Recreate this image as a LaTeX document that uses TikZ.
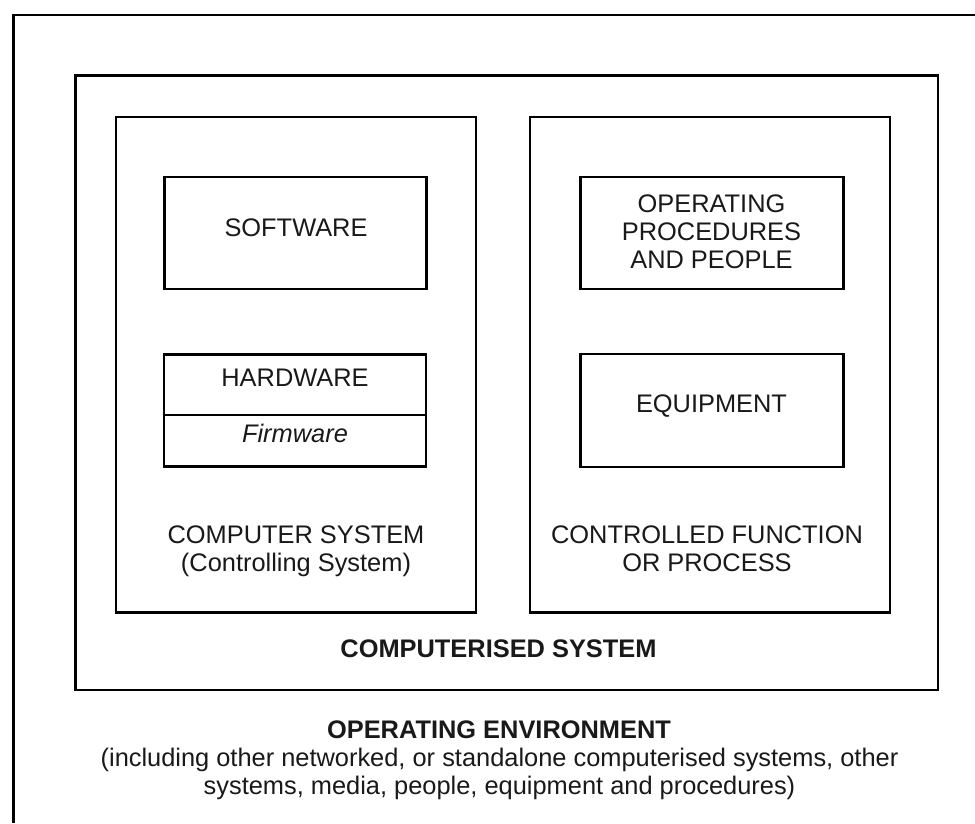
\documentclass[tikz,border=0pt]{standalone}
\usepackage{fontspec}
\setmainfont{Liberation Sans}
\begin{document}
\begin{tikzpicture}[x=1pt,y=-1pt,
  box/.style={draw=black, line width=2.8pt, inner sep=0pt, fill=none},
  lbl/.style={font=\fontsize{25.4}{28}\selectfont, anchor=base, align=center, inner sep=0pt, text=black!90},
  boldlbl/.style={lbl, font=\fontsize{25.4}{28}\selectfont\bfseries}]
\useasboundingbox (0,0) rectangle (975,823);

% operating environment: only its top and left edges fall on the page
\coordinate (envTR) at (975,15);
\coordinate (envTL) at (13.5,15);
\coordinate (envBL) at (13.5,823);
\draw[line width=2.8pt] (envTR) -- (envTL) -- (envBL);

% computerised system
\node[box, minimum width=862.5pt, minimum height=614.5pt] (cs) at (506.75,382.75) {};

% controlling computer system and controlled process
\node[box, minimum width=360pt, minimum height=495.5pt] (comp) at (296,364.75) {};
\node[box, minimum width=360pt, minimum height=495.5pt] (proc) at (710,364.75) {};

% components
\node[box, minimum width=262pt, minimum height=112pt] (sw) at (295.5,233) {};
\node[box, minimum width=262pt, minimum height=112.5pt] (hw) at (295,410.5) {};
\coordinate (hwdivL) at (hw.west |- 0,415);
\coordinate (hwdivR) at (hw.east |- 0,415);
\draw[line width=2.2pt] (hwdivL) -- (hwdivR);
\node[box, minimum width=262.5pt, minimum height=112pt] (ops) at (712,233) {};
\node[box, minimum width=262.5pt, minimum height=113pt] (eq) at (712,410.5) {};

% labels (a multi-line label sits on the baseline of its last line)
\node[lbl] (swt) at (296,236) {SOFTWARE};
\node[lbl] (hwt) at (295,386) {HARDWARE};
\node[lbl] (fwt) at (295,442) {\itshape Firmware};
\node[lbl] (opst) at (711.5,268) {OPERATING\\PROCEDURES\\AND PEOPLE};
\node[lbl] (eqt) at (711.5,412) {EQUIPMENT};
\node[lbl] (compt) at (296,571) {COMPUTER SYSTEM\\(Controlling System)};
\node[lbl] (proct) at (707,571) {CONTROLLED FUNCTION\\OR PROCESS};
\node[boldlbl] (cst) at (498.5,657) {COMPUTERISED SYSTEM};
\node[boldlbl] (envt) at (499,738) {OPERATING ENVIRONMENT};
\node[lbl] (envd) at (499.5,794) {(including other networked, or standalone computerised systems, other\\systems, media, people, equipment and procedures)};
\end{tikzpicture}
\end{document}
